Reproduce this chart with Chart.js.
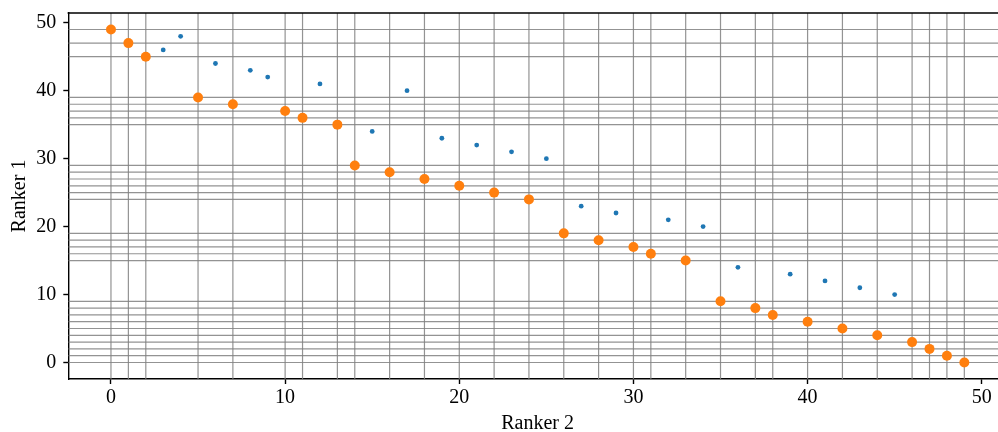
<!DOCTYPE html>
<html>
<head>
<meta charset="utf-8">
<script src="https://cdn.jsdelivr.net/npm/chart.js@4/dist/chart.umd.min.js"></script>
<style>
  html, body { margin: 0; padding: 0; background: #ffffff; overflow: hidden; }
  #wrap { width: 998px; height: 432px; overflow: hidden; }
  #c { display: block; }
</style>
</head>
<body>
<div id="wrap"><canvas id="c" width="1007" height="432"></canvas></div>
<script>
// Position of each item under Ranker 2 (x) and Ranker 1 (y)
const allRanker2 = [0,1,2,3,4,5,6,7,8,9,10,11,12,13,14,15,16,17,18,19,20,21,22,23,24,25,26,27,28,29,30,31,32,33,34,35,36,37,38,39,40,41,42,43,44,45,46,47,48,49];
const allRanker1 = [49,47,45,46,48,39,44,38,43,42,37,36,41,35,29,34,28,40,27,33,26,32,25,31,24,30,19,23,18,22,17,16,21,15,20,9,14,8,7,13,6,12,5,11,4,10,3,2,1,0];

// Items where both rankers agree in order (highlighted, with guide lines)
const agreeRanker2 = [0,1,2,5,7,10,11,13,14,16,18,20,22,24,26,28,30,31,33,35,37,38,40,42,44,46,47,48,49];
const agreeRanker1 = [49,47,45,39,38,37,36,35,29,28,27,26,25,24,19,18,17,16,15,9,8,7,6,5,4,3,2,1,0];

const tickValues = [0,10,20,30,40,50];

const toPoints = (xs, ys) => xs.map((x, i) => ({ x: x, y: ys[i] }));

// Guide lines through every highlighted item, plus the top and right frame edges
const guideLines = {
  id: 'guideLines',
  beforeDatasetsDraw(chart) {
    const { ctx, chartArea, scales } = chart;
    ctx.save();
    ctx.beginPath();
    ctx.rect(chartArea.left, chartArea.top, chartArea.right - chartArea.left, chartArea.bottom - chartArea.top);
    ctx.clip();
    ctx.strokeStyle = 'rgba(128,128,128,0.85)';
    ctx.lineWidth = 1.2;
    agreeRanker2.forEach(v => {
      const px = scales.x.getPixelForValue(v);
      ctx.beginPath();
      ctx.moveTo(px, chartArea.top);
      ctx.lineTo(px, chartArea.bottom);
      ctx.stroke();
    });
    agreeRanker1.forEach(v => {
      const py = scales.y.getPixelForValue(v);
      ctx.beginPath();
      ctx.moveTo(chartArea.left, py);
      ctx.lineTo(chartArea.right, py);
      ctx.stroke();
    });
    ctx.restore();
  },
  afterDraw(chart) {
    const { ctx, chartArea } = chart;
    ctx.save();
    ctx.strokeStyle = '#000000';
    ctx.lineWidth = 1.4;
    ctx.beginPath();
    ctx.moveTo(chartArea.left - 0.7, chartArea.top);
    ctx.lineTo(chartArea.right, chartArea.top);
    ctx.lineTo(chartArea.right, chartArea.bottom);
    ctx.stroke();
    ctx.restore();
  }
};

const serif = "'Liberation Serif', 'Times New Roman', serif";

new Chart(document.getElementById('c'), {
  type: 'scatter',
  data: {
    datasets: [
      {
        label: 'agree',
        data: toPoints(agreeRanker2, agreeRanker1),
        backgroundColor: '#ff7f0e',
        borderWidth: 0,
        pointRadius: 5,
        pointHoverRadius: 5,
        order: 0
      },
      {
        label: 'all',
        data: toPoints(allRanker2, allRanker1),
        backgroundColor: '#1f77b4',
        borderWidth: 0,
        pointRadius: 2.4,
        pointHoverRadius: 2.4,
        order: 1
      }
    ]
  },
  options: {
    responsive: false,
    animation: false,
    events: [],
    layout: { autoPadding: false, padding: { top: 13, right: 0, bottom: 0, left: 0 } },
    plugins: {
      legend: { display: false },
      tooltip: { enabled: false }
    },
    scales: {
      x: {
        type: 'linear',
        min: -2.45,
        max: 51.45,
        afterFit(scale) { scale.height = 53; scale.paddingLeft = 0; scale.paddingRight = 0; },
        afterBuildTicks(scale) { scale.ticks = tickValues.map(v => ({ value: v })); },
        border: { display: true, color: '#000000', width: 1.4 },
        grid: { drawOnChartArea: false, drawTicks: true, tickLength: 5, tickColor: '#000000', tickWidth: 1.4 },
        ticks: { color: '#000000', padding: 2, maxRotation: 0, autoSkip: false, font: { family: serif, size: 20 } },
        title: { display: true, text: 'Ranker 2', color: '#000000', padding: 0, font: { family: serif, size: 20, lineHeight: 0.85 } }
      },
      y: {
        type: 'linear',
        min: -2.43,
        max: 51.43,
        afterFit(scale) { scale.width = 68.3; scale.paddingTop = 0; scale.paddingBottom = 0; },
        afterBuildTicks(scale) { scale.ticks = tickValues.map(v => ({ value: v })); },
        border: { display: true, color: '#000000', width: 1.4 },
        grid: { drawOnChartArea: false, drawTicks: true, tickLength: 5, tickColor: '#000000', tickWidth: 1.4 },
        ticks: { color: '#000000', padding: 7, autoSkip: false, font: { family: serif, size: 20 } },
        title: { display: true, text: 'Ranker 1', color: '#000000', padding: { top: 8, bottom: 0 }, font: { family: serif, size: 20, lineHeight: 1.2 } }
      }
    }
  },
  plugins: [guideLines]
});
</script>
</body>
</html>
